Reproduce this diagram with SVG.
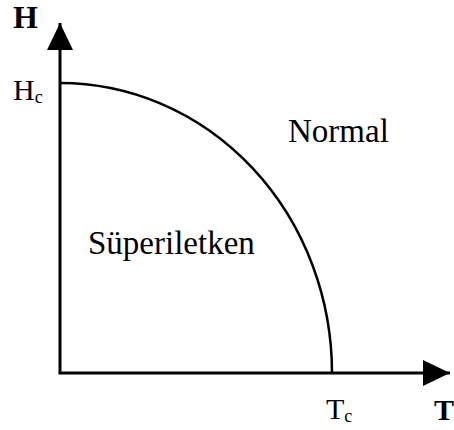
<svg xmlns="http://www.w3.org/2000/svg" width="454" height="430" viewBox="0 0 454 430">
<defs>
<style>
.t{font-family:"Liberation Serif","Times New Roman",serif;fill:#000}
.b{font-weight:bold}
.ax{stroke:#000;stroke-width:3;fill:none}
</style>
<marker id="ah" markerUnits="userSpaceOnUse" markerWidth="28" markerHeight="26" refX="27" refY="13" orient="auto">
<path d="M0,0 L27,13 L0,26 Z" fill="#000"/>
</marker>
</defs>
<rect width="454" height="430" fill="#fff"/>
<g id="connectors">
<line class="ax" x1="60" y1="373" x2="60" y2="23" marker-end="url(#ah)"/>
<line class="ax" x1="58.5" y1="373" x2="450" y2="373" marker-end="url(#ah)"/>
<path id="curve" d="M60,83 A272,290 0 0 1 332,373" fill="none" stroke="#000" stroke-width="2.5"/>
</g>
<g id="label-H"><text class="t b" x="13" y="28" font-size="32">H</text></g>
<g id="label-Hc"><text class="t" x="13" y="100" font-size="30">H<tspan font-size="18" dy="3">c</tspan></text></g>
<g id="label-Tc"><text class="t" x="326" y="419" font-size="30">T<tspan font-size="18" dy="3">c</tspan></text></g>
<g id="label-T"><text class="t b" x="434" y="420" font-size="30">T</text></g>
<g id="normal"><text class="t" x="288" y="142" font-size="33">Normal</text></g>
<g id="superiletken"><text class="t" x="88" y="254" font-size="33">Süperiletken</text></g>
</svg>
